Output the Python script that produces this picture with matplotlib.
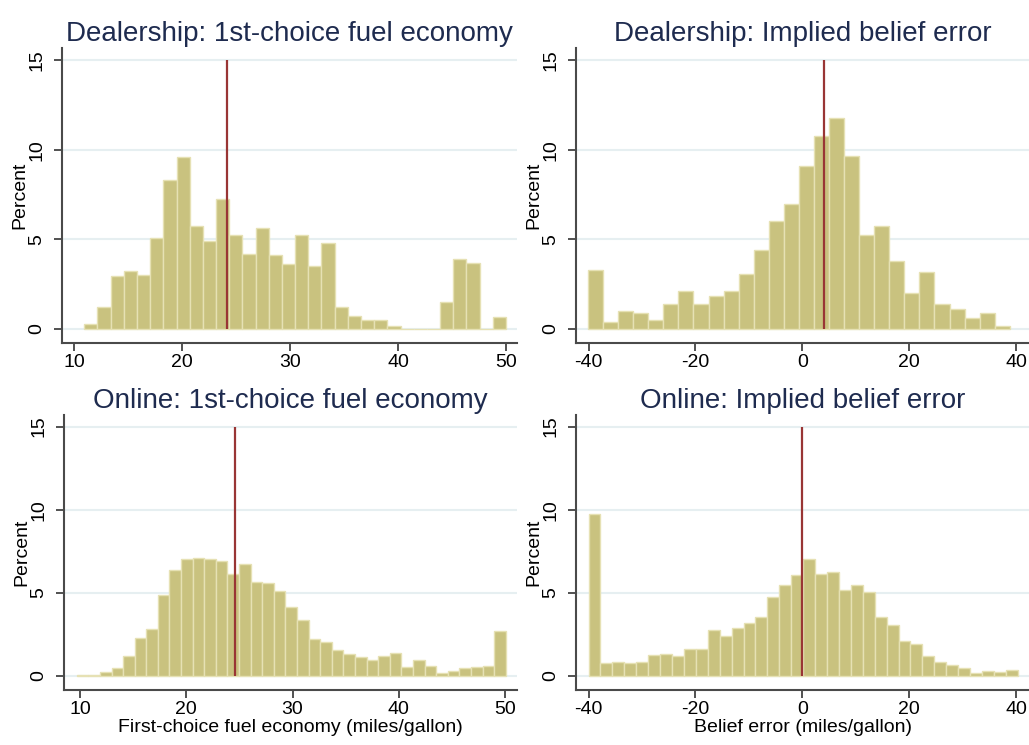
import numpy as np
import matplotlib
matplotlib.use("Agg")
from matplotlib import pyplot as plt

plt.rcParams['font.family'] = ['Liberation Sans', 'DejaVu Sans']
plt.rcParams['axes.unicode_minus'] = False

# Dealership: first-choice fuel economy (32 bins from 10.95 to 50)
dealer_mpg_range = (10.95, 50.0)
dealer_mpg_pct = [0.30, 1.21, 2.96, 3.22, 3.00, 5.07, 8.29, 9.59, 5.72, 4.92,
                  7.24, 5.23, 4.21, 5.62, 4.15, 3.61, 5.23, 3.50, 4.79, 1.21,
                  0.73, 0.50, 0.50, 0.19, 0.0, 0.0, 0.0, 1.51, 3.89, 3.67,
                  0.0, 0.67]
dealer_mpg_mean = 24.15

# Dealership: implied belief error (28 bins from -40.1 to 38.8)
dealer_err_range = (-40.1, 38.8)
dealer_err_pct = [3.31, 0.39, 1.01, 0.89, 0.52, 1.38, 2.10, 1.38, 1.86, 2.10,
                  3.09, 4.41, 6.00, 6.98, 9.07, 10.78, 11.75, 9.66, 5.27, 5.77,
                  3.80, 1.99, 3.18, 1.38, 1.12, 0.63, 0.89, 0.15]
dealer_err_mean = 4.0

# Online: first-choice fuel economy (37 bins from 9.7 to 50.05)
online_mpg_range = (9.70, 50.05)
online_mpg_pct = [0.06, 0.06, 0.24, 0.48, 1.17, 2.27, 2.82, 4.85, 6.38, 7.00,
                  7.08, 7.00, 6.92, 6.10, 6.70, 5.63, 5.59, 5.11, 4.14, 3.34,
                  2.21, 2.01, 1.57, 1.29, 1.11, 0.97, 1.21, 1.37, 0.52, 0.93,
                  0.60, 0.16, 0.30, 0.44, 0.54, 0.60, 2.68]
online_mpg_mean = 24.6

# Online: implied belief error (36 bins from -40 to 40.3)
online_err_range = (-40.0, 40.3)
online_err_pct = [9.76, 0.78, 0.82, 0.78, 0.82, 1.23, 1.31, 1.19, 1.63, 1.63,
                  2.74, 2.37, 2.86, 3.16, 3.52, 4.73, 5.47, 6.04, 7.04, 6.12,
                  6.24, 5.15, 5.45, 5.05, 3.54, 3.06, 2.11, 1.89, 1.19, 0.82,
                  0.62, 0.46, 0.18, 0.30, 0.22, 0.34]
online_err_mean = -0.1

titles = ["Dealership: 1st-choice fuel economy", "Dealership: Implied belief error",
          "Online: 1st-choice fuel economy", "Online: Implied belief error"]
mpg_ticks = [10, 20, 30, 40, 50]
err_ticks = [-40, -20, 0, 20, 40]
y_ticks = [0, 5, 10, 15]

BAR = '#c9c27f'
BAR_EDGE = '#e6e1b4'
LINE = '#993535'
TITLE = '#1e2b4f'
GRID = '#e6eff1'
AXIS = '#4a4a4a'

W, H = 1029, 745
fig = plt.figure(figsize=(W / 100, H / 100), dpi=100)


def px_axes(left, right, top, bottom):
    return fig.add_axes([left / W, 1 - bottom / H, (right - left) / W, (bottom - top) / H])


def draw_hist(ax, pct, rng, mean, xticks, xlim, ylim, title, xlabel=None):
    edges = np.linspace(rng[0], rng[1], len(pct) + 1)
    ax.bar(edges[:-1], pct, width=np.diff(edges), align='edge',
           color=BAR, edgecolor=BAR_EDGE, linewidth=1.0, zorder=2)
    ax.vlines(mean, 0, 15, color=LINE, linewidth=1.6, zorder=3)
    ax.set_xlim(*xlim)
    ax.set_ylim(*ylim)
    ax.set_xticks(xticks)
    ax.set_yticks(y_ticks)
    ax.set_yticklabels([str(t) for t in y_ticks], rotation=90, va='center')
    for t in y_ticks:
        ax.axhline(t, color=GRID, linewidth=1.5, zorder=1)
    for side in ['top', 'right']:
        ax.spines[side].set_visible(False)
    for side in ['left', 'bottom']:
        ax.spines[side].set_color(AXIS)
        ax.spines[side].set_linewidth(1.5)
    ax.tick_params(axis='both', direction='out', length=6, width=1.1,
                   color='#222222', labelsize=14, labelcolor='black')
    ax.tick_params(axis='x', pad=2)
    ax.tick_params(axis='y', pad=6)
    ax.set_ylabel('Percent', fontsize=14, labelpad=0)
    ax.set_title(title, fontsize=20, color=TITLE, pad=5)
    if xlabel:
        ax.set_xlabel(xlabel, fontsize=14, labelpad=1)


ax1 = px_axes(62, 516.5, 48, 343)
draw_hist(ax1, dealer_mpg_pct, dealer_mpg_range, dealer_mpg_mean, mpg_ticks,
          (8.89, 50.97), (-0.78, 15.67), titles[0])

ax2 = px_axes(576, 1029, 48, 343)
draw_hist(ax2, dealer_err_pct, dealer_err_range, dealer_err_mean, err_ticks,
          (-42.35, 42.4), (-0.78, 15.67), titles[1])

ax3 = px_axes(64.4, 516.5, 415, 690)
draw_hist(ax3, online_mpg_pct, online_mpg_range, online_mpg_mean, mpg_ticks,
          (8.54, 51.06), (-0.86, 15.70), titles[2],
          'First-choice fuel economy (miles/gallon)')

ax4 = px_axes(576, 1029, 415, 690)
draw_hist(ax4, online_err_pct, online_err_range, online_err_mean, err_ticks,
          (-42.35, 42.4), (-0.86, 15.70), titles[3],
          'Belief error (miles/gallon)')

fig.savefig('out.png', dpi=100, facecolor='white')
